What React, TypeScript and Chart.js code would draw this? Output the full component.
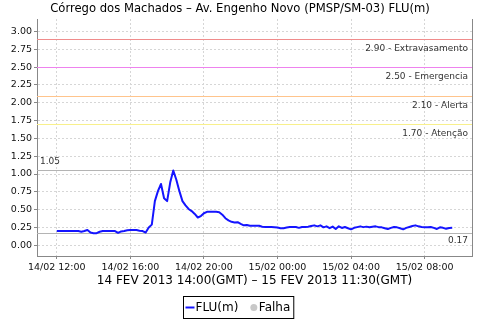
import { useEffect, useRef } from "react";
import { Chart, registerables } from "chart.js";

Chart.register(...registerables);

const chartTitle = "Córrego dos Machados – Av. Engenho Novo (PMSP/SM-03) FLU(m)";
const axisTitle = "14 FEV 2013 14:00(GMT) – 15 FEV 2013 11:30(GMT)";

// one reading every 10 minutes, starting 14/02 12:00 (local)
const sampleStepMinutes = 10;
const fluValues = [
  0.2, 0.2, 0.2, 0.2, 0.2, 0.2, 0.2, 0.2, 0.19, 0.2,
  0.215, 0.18, 0.17, 0.17, 0.19, 0.2, 0.2, 0.2, 0.2, 0.2,
  0.175, 0.195, 0.2, 0.21, 0.215, 0.215, 0.215, 0.205, 0.2, 0.18,
  0.25, 0.29, 0.62, 0.76, 0.86, 0.66, 0.62, 0.88, 1.05, 0.92,
  0.76, 0.62, 0.56, 0.51, 0.48, 0.44, 0.39, 0.41, 0.45, 0.47,
  0.47, 0.47, 0.47, 0.465, 0.43, 0.38, 0.35, 0.33, 0.32, 0.325,
  0.3, 0.28, 0.285, 0.275, 0.275, 0.275, 0.275, 0.26, 0.257, 0.257,
  0.257, 0.255, 0.25, 0.24, 0.24, 0.25, 0.257, 0.257, 0.257, 0.245,
  0.257, 0.257, 0.26, 0.27, 0.28, 0.266, 0.28, 0.252, 0.266, 0.24,
  0.262, 0.229, 0.266, 0.243, 0.257, 0.24, 0.224, 0.245, 0.255, 0.266,
  0.255, 0.262, 0.252, 0.26, 0.266, 0.255, 0.252, 0.24, 0.229, 0.245,
  0.257, 0.252, 0.24, 0.224, 0.245, 0.257, 0.27, 0.28, 0.266, 0.257,
  0.252, 0.252, 0.257, 0.245, 0.229, 0.252, 0.245, 0.233, 0.243, 0.245,
];

const xTickMinutes = [0, 240, 480, 720, 960, 1200];
const xTickLabels = ["14/02 12:00", "14/02 16:00", "14/02 20:00", "15/02 00:00", "15/02 04:00", "15/02 08:00"];
const yTickValues = [0, 0.25, 0.5, 0.75, 1.0, 1.25, 1.5, 1.75, 2.0, 2.25, 2.5, 2.75, 3.0];

const thresholdValues = [2.9, 2.5, 2.1, 1.7];
const thresholdNames = ["Extravasamento", "Emergencia", "Alerta", "Atenção"];
const thresholdColors = ["#f08c8c", "#ee82ee", "#ffc48c", "#f8f08c"];

const legendLabels = ["FLU(m)", "Falha"];
const seriesColor = "#1414ff";
const failColor = "#c8c8c8";

const FONT = "'DejaVu Sans', sans-serif";

const refLinesPlugin = {
  id: "refLines",
  beforeDatasetsDraw(chart: any) {
    const { ctx, chartArea: a, scales } = chart;
    const y = scales.y;
    ctx.save();
    ctx.lineWidth = 1;
    ctx.font = `9px ${FONT}`;
    ctx.textBaseline = "middle";
    thresholdValues.forEach((v, i) => {
      const py = Math.round(y.getPixelForValue(v)) + 0.5;
      ctx.strokeStyle = thresholdColors[i];
      ctx.beginPath();
      ctx.moveTo(a.left, py);
      ctx.lineTo(a.right, py);
      ctx.stroke();
      ctx.fillStyle = "#333";
      ctx.textAlign = "right";
      ctx.fillText(`${v.toFixed(2)} - ${thresholdNames[i]}`, a.right - 4, py + 9);
    });
    const maxV = Math.max(...fluValues);
    const minV = Math.min(...fluValues);
    ctx.strokeStyle = "#b4b4b4";
    [maxV, minV].forEach((v) => {
      const py = Math.round(y.getPixelForValue(v)) + 0.5;
      ctx.beginPath();
      ctx.moveTo(a.left, py);
      ctx.lineTo(a.right, py);
      ctx.stroke();
    });
    ctx.fillStyle = "#333";
    ctx.textAlign = "left";
    ctx.fillText(maxV.toFixed(2), a.left + 3, Math.round(y.getPixelForValue(maxV)) - 8);
    ctx.textAlign = "right";
    ctx.fillText(minV.toFixed(2), a.right - 4, Math.round(y.getPixelForValue(minV)) + 8);
    ctx.restore();
  },
  afterDraw(chart: any) {
    const { ctx, chartArea: a, width } = chart;
    ctx.save();
    // title
    ctx.font = `11.6px ${FONT}`;
    ctx.fillStyle = "#000";
    ctx.textAlign = "center";
    ctx.textBaseline = "middle";
    ctx.fillText(chartTitle, width / 2, 8.5);

    // right plot outline
    ctx.strokeStyle = "#888";
    ctx.lineWidth = 1;
    ctx.beginPath();
    ctx.moveTo(Math.round(a.right) + 0.5, a.top);
    ctx.lineTo(Math.round(a.right) + 0.5, a.bottom);
    ctx.stroke();

    // legend
    ctx.font = `12px ${FONT}`;
    const w1 = ctx.measureText(legendLabels[0]).width;
    const w2 = ctx.measureText(legendLabels[1]).width;
    const total = 2 + 9 + 1 + w1 + 12 + 7 + 1.5 + w2 + 3.5;
    const x0 = Math.round(width / 2 - 1 - total / 2) - 0.5;
    const top = 296.5;
    const h = 22;
    const cy = top + h / 2;
    ctx.fillStyle = "#fff";
    ctx.fillRect(x0, top, total, h);
    ctx.strokeStyle = "#000";
    ctx.strokeRect(x0, top, total, h);
    let x = x0 + 2;
    ctx.strokeStyle = seriesColor;
    ctx.lineWidth = 2;
    ctx.beginPath();
    ctx.moveTo(x, cy);
    ctx.lineTo(x + 9, cy);
    ctx.stroke();
    x += 10;
    ctx.fillStyle = "#000";
    ctx.textAlign = "left";
    ctx.textBaseline = "middle";
    ctx.fillText(legendLabels[0], x, cy);
    x += w1 + 12;
    ctx.fillStyle = failColor;
    ctx.beginPath();
    ctx.arc(x + 3.5, cy, 3.5, 0, Math.PI * 2);
    ctx.fill();
    x += 8.5;
    ctx.fillStyle = "#000";
    ctx.fillText(legendLabels[1], x, cy);
    ctx.restore();
  },
};

export default function App() {
  const canvasRef = useRef<HTMLCanvasElement | null>(null);

  useEffect(() => {
    const canvas = canvasRef.current;
    if (!canvas) return;
    const points = fluValues.map((v, i) => ({ x: i * sampleStepMinutes, y: v }));
    const span = (fluValues.length - 1) * sampleStepMinutes;
    const chart = new Chart(canvas, {
      type: "line",
      data: {
        datasets: [
          {
            label: legendLabels[0],
            data: points,
            borderColor: seriesColor,
            backgroundColor: seriesColor,
            borderWidth: 2,
            pointRadius: 0,
            tension: 0,
            fill: false,
            borderJoinStyle: "round",
          },
        ],
      },
      options: {
        responsive: false,
        animation: false,
        events: [],
        layout: { padding: { left: 0, right: 8, top: 19, bottom: 0 } },
        plugins: {
          legend: { display: false },
          tooltip: { enabled: false },
          title: { display: false },
        },
        scales: {
          x: {
            type: "linear",
            min: -span * 0.05,
            max: span * 1.05,
            afterBuildTicks: (scale: any) => {
              scale.ticks = xTickMinutes.map((v) => ({ value: v }));
            },
            afterFit: (scale: any) => {
              scale.height = 64;
            },
            ticks: {
              autoSkip: false,
              maxRotation: 0,
              minRotation: 0,
              padding: 3,
              color: "#111",
              font: { family: FONT, size: 9.5 },
              callback: (value: any) => {
                const idx = xTickMinutes.indexOf(Number(value));
                return idx >= 0 ? xTickLabels[idx] : "";
              },
            },
            grid: {
              color: "#d6d6d6",
              tickLength: 3,
              tickColor: "#888",
            },
            border: { display: true, color: "#888", dash: [2, 2] },
            title: {
              display: true,
              text: axisTitle,
              color: "#000",
              font: { family: FONT, size: 12, lineHeight: 1.2 },
              padding: { top: 0, bottom: 32 },
            },
          },
          y: {
            type: "linear",
            min: -0.15,
            max: 3.175,
            afterBuildTicks: (scale: any) => {
              scale.ticks = yTickValues.map((v) => ({ value: v }));
            },
            afterFit: (scale: any) => {
              scale.width = 37;
            },
            ticks: {
              padding: 2,
              color: "#111",
              font: { family: FONT, size: 9.5 },
              callback: (value: any) => Number(value).toFixed(2),
            },
            grid: {
              color: "#d6d6d6",
              tickLength: 3,
              tickColor: "#888",
            },
            border: { display: true, color: "#888", dash: [2, 2] },
          },
        },
      },
      plugins: [refLinesPlugin],
    } as any);
    return () => chart.destroy();
  }, []);

  return (
    <div style={{ position: "absolute", left: 0, top: 0, width: 480, height: 320, background: "#fff" }}>
      <canvas ref={canvasRef} width={480} height={320} style={{ display: "block" }} />
    </div>
  );
}
